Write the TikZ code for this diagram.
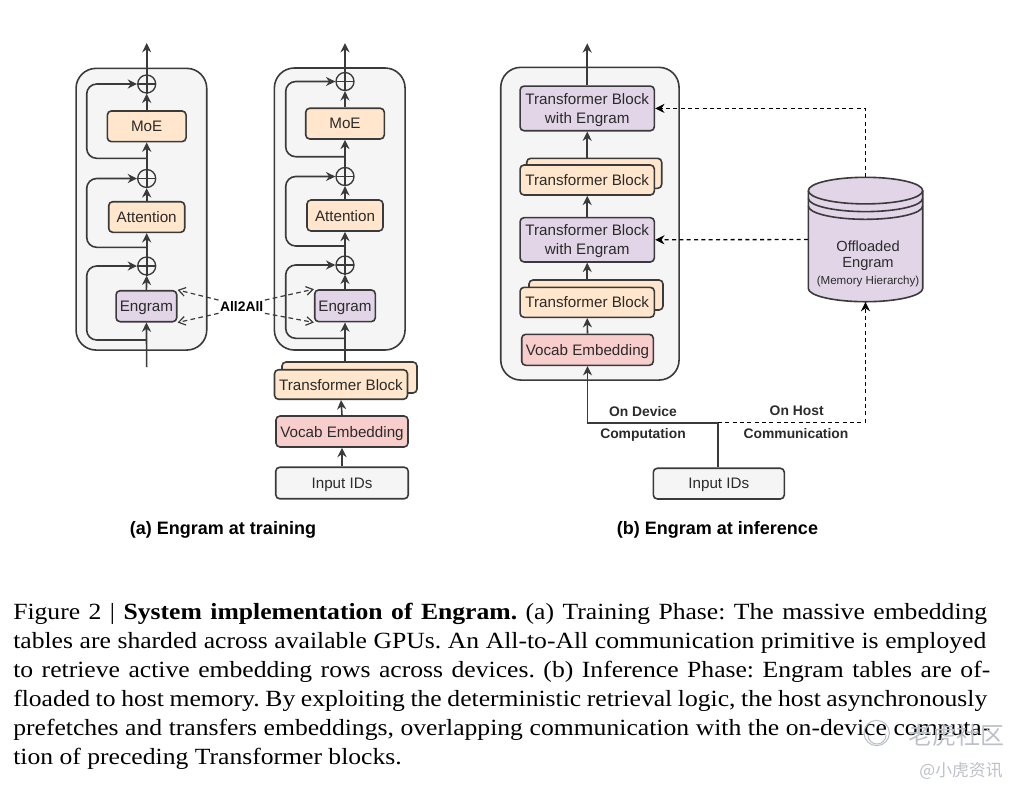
\documentclass[tikz,border=0pt]{standalone}
\usepackage{fontspec}
\setmainfont{Liberation Sans}
\newfontfamily\capfont[FakeStretch=1.105]{Liberation Serif}
\newfontfamily\cjkfont{Noto Sans CJK SC}
\usetikzlibrary{arrows.meta}
\definecolor{ink}{HTML}{2B2B2B}
\definecolor{linec}{HTML}{3A3A3A}
\definecolor{panelc}{HTML}{F5F5F5}
\definecolor{orangec}{HTML}{FFE6CC}
\definecolor{purplec}{HTML}{E1D5E7}
\definecolor{pinkc}{HTML}{F8CECC}
\definecolor{wmc}{HTML}{BCC0C8}
\newcommand{\capline}[3]{\node[capl] (#1) at (13,#2) {#3};}
\newcommand{\capfit}[4]{\node[capl] (#1) at (13,#2) {\makebox[\dimexpr #3pt*3/4\relax][s]{\frenchspacing #4}};}
\tikzset{
 x=0.75pt,y=-0.75pt,
 wire/.style={draw=linec,line width=1.2pt},
 arr/.style={wire,-{Stealth[length=7pt,width=6.8pt]}},
 skip/.style={arr,rounded corners=7.5pt},
 dasharr/.style={draw=black,line width=1pt,dash pattern=on 3pt off 2.5pt,-{Stealth[length=7pt,width=6.8pt]}},
 alldash/.style={draw=linec,line width=0.9pt,dash pattern=on 3.5pt off 2.5pt,-{Straight Barb[length=5pt,width=6.5pt]}},
 panel/.style={draw=linec,line width=1.2pt,fill=panelc,rounded corners=15pt,inner sep=0pt},
 blk/.style={draw=linec,line width=1.2pt,rounded corners=3pt,inner sep=0pt,align=center,text=ink,text depth=0pt,font=\fontsize{11.4pt}{14.2pt}\selectfont},
 orb/.style={blk,fill=orangec},
 prb/.style={blk,fill=purplec},
 pnb/.style={blk,fill=pinkc},
 gyb/.style={blk,fill=panelc},
 sz/.style n args={2}{minimum width=#1*0.75pt,minimum height=#2*0.75pt},
 plus/.style={circle,draw=linec,line width=1pt,minimum size=13.5pt,inner sep=0pt,
   path picture={\draw[linec,line width=1pt] (path picture bounding box.north)--(path picture bounding box.south)
     (path picture bounding box.west)--(path picture bounding box.east);}},
 lab/.style={inner sep=1pt,text=ink,text depth=0pt,font=\bfseries\fontsize{10.4pt}{12pt}\selectfont},
 sub/.style={inner sep=0pt,text=black,text depth=0pt,font=\bfseries\fontsize{13.5pt}{16pt}\selectfont},
 capl/.style={anchor=base west,inner sep=0pt,text=black,font=\capfont\fontsize{17.4pt}{21pt}\selectfont},
 free/.style={inner sep=0pt,text=ink,text depth=0pt}
}
\begin{document}
\begin{tikzpicture}
\useasboundingbox (0,0) rectangle (1024,794);
% --- panels
\node[panel,sz={130.7}{281.7}] (p1) at (141.4,209.2) {};
\node[panel,sz={130.7}{282}] (p2) at (339.7,209) {};
\node[panel,sz={178.3}{312.7}] (p3) at (589.9,223.7) {};
% --- training, left column
\node[orb,sz={78.7}{30.7}] (moeA) at (146.7,126.3) {MoE};
\node[orb,sz={76}{30.6}] (attA) at (146.7,217) {Attention};
\node[prb,sz={60.7}{31}] (engA) at (146.4,306.2) {Engram};
\node[plus] (c1A) at (146.7,84) {};
\node[plus] (c2A) at (146.7,178.5) {};
\node[plus] (c3A) at (146.7,266) {};
\coordinate (topA) at (146.7,43);
\coordinate (botA) at (146.7,367);
\coordinate (s1A) at (146.7,158.3);
\coordinate (s2A) at (146.7,247.3);
\coordinate (s3A) at (146.7,340);
\draw[arr] (botA) -- (engA.south);
\draw[arr] (engA.north) -- (c3A.south);
\draw[arr] (c3A.south) -- (attA.south);
\draw[arr] (attA.north) -- (c2A.south);
\draw[arr] (c2A.south) -- (moeA.south);
\draw[arr] (moeA.north) -- (c1A.south);
\draw[arr] (c1A.south) -- (topA);
\draw[skip] (s3A) -- (86.7,340) -- (86.7,266) -- (c3A.west);
\draw[skip] (s2A) -- (86.7,247.3) -- (86.7,178.5) -- (c2A.west);
\draw[skip] (s1A) -- (86.7,158.3) -- (86.7,84) -- (c1A.west);
% --- training, right column
\node[orb,sz={78.6}{30.7}] (moeB) at (345,123.6) {MoE};
\node[orb,sz={76}{31}] (attB) at (345,215.5) {Attention};
\node[prb,sz={60.6}{31.7}] (engB) at (345,305.8) {Engram};
\node[plus] (c1B) at (345,81.5) {};
\node[plus] (c2B) at (345,176.5) {};
\node[plus] (c3B) at (345,265) {};
\coordinate (topB) at (345,43);
\coordinate (s1B) at (345,156.7);
\coordinate (s2B) at (345,246);
\coordinate (s3B) at (345,338.3);
\node[orb,sz={135}{31}] (tbBback) at (349.5,377.5) {};
\node[orb,sz={133}{29.5}] (tbB) at (341,384.5) {Transformer Block};
\node[pnb,sz={132}{31}] (vocB) at (342,431.5) {Vocab Embedding};
\node[gyb,sz={132.5}{31.5}] (inB) at (342,483) {Input IDs};
\draw[arr] (inB.north) -- (vocB.south);
\draw[arr] (vocB.north) -- (tbB.south);
\draw[arr] (tbBback.north -| engB.south) -- (engB.south);
\draw[arr] (engB.north) -- (c3B.south);
\draw[arr] (c3B.south) -- (attB.south);
\draw[arr] (attB.north) -- (c2B.south);
\draw[arr] (c2B.south) -- (moeB.south);
\draw[arr] (moeB.north) -- (c1B.south);
\draw[arr] (c1B.south) -- (topB);
\draw[skip] (s3B) -- (285.7,338.3) -- (285.7,265) -- (c3B.west);
\draw[skip] (s2B) -- (285.7,246) -- (285.7,176.5) -- (c2B.west);
\draw[skip] (s1B) -- (285.7,156.7) -- (285.7,81.5) -- (c1B.west);
% --- All2All
\node[lab,text=black] (all) at (241.7,306.7) {All2All};
\draw[alldash] (all.north west) -- (engA.north east);
\draw[alldash] (all.south west) -- (engA.south east);
\draw[alldash] (all.north east) -- (engB.north west);
\draw[alldash] (all.south east) -- (engB.south west);
% --- inference
\node[prb,sz={134.3}{44.7}] (teTop) at (587.2,108.4) {Transformer Block\\with Engram};
\node[orb,sz={135}{30}] (tb1back) at (594.2,173.3) {};
\node[orb,sz={134.3}{30}] (tb1) at (587.2,180) {Transformer Block};
\node[prb,sz={134.3}{44.3}] (teBot) at (587.2,239.8) {Transformer Block\\with Engram};
\node[orb,sz={134}{30}] (tb2back) at (596,295) {};
\node[orb,sz={134.3}{30}] (tb2) at (587.2,302.3) {Transformer Block};
\node[pnb,sz={131.6}{31}] (vocC) at (587.5,349.8) {Vocab Embedding};
\node[gyb,sz={131}{30.7}] (inC) at (718.8,483.6) {Input IDs};
\coordinate (topC) at (587.2,43.3);
\coordinate (junc) at (718,422.7);
\draw[arr] (teTop.north) -- (topC);
\draw[arr] (tb1back.north -| teTop.south) -- (teTop.south);
\draw[arr] (teBot.north) -- (tb1.south);
\draw[arr] (tb2back.north -| teBot.south) -- (teBot.south);
\draw[arr] (vocC.north) -- (tb2.south);
\draw[wire] (inC.north -| junc) -- (junc);
\draw[arr] (junc) -| (vocC.south);
% --- offloaded engram
\node[inner sep=0pt,sz={114.4}{124.4}] (cyl) at (865.5,239.5) {};
\fill[purplec] (808.3,190.6) arc[start angle=180,end angle=360,x radius=57.2,y radius=13.3]
  -- (922.7,288.4) arc[start angle=0,end angle=180,x radius=57.2,y radius=13.3] -- cycle;
\draw[linec,line width=1.2pt] (808.3,190.6) arc[start angle=180,end angle=-180,x radius=57.2,y radius=13.3];
\draw[linec,line width=1.2pt] (808.3,190.6) -- (808.3,288.4) arc[start angle=180,end angle=0,x radius=57.2,y radius=13.3] -- (922.7,190.6);
\draw[linec,line width=1.2pt] (808.3,198.3) arc[start angle=180,end angle=0,x radius=57.2,y radius=13.3];
\draw[linec,line width=1.2pt] (808.3,206) arc[start angle=180,end angle=0,x radius=57.2,y radius=13.3];
\node[free,font=\fontsize{11pt}{13pt}\selectfont] (tOff) at (868,246) {Offloaded};
\node[free,font=\fontsize{11pt}{13pt}\selectfont] (tEng) at (868,262.5) {Engram};
\node[free,font=\fontsize{8.7pt}{10pt}\selectfont] (tMem) at (868,280) {(Memory Hierarchy)};
\draw[dasharr] (cyl.north) |- (teTop.east);
\draw[dasharr] (cyl.west) -- (teBot.east);
\draw[draw=black,line width=1pt,dash pattern=on 3pt off 2.5pt] (junc) -- (cyl.south |- junc);
\draw[dasharr] (cyl.south |- junc) -- (cyl.south);
\node[lab] (l1) at (643,411) {On Device};
\node[lab] (l2) at (643,433) {Computation};
\node[lab] (l3) at (796.7,411) {On Host};
\node[lab] (l4) at (796,433) {Communication};
% --- sub-captions
\node[sub] (subA) at (223,528) {(a) Engram at training};
\node[sub] (subB) at (717.5,528) {(b) Engram at inference};
% --- caption
\capfit{cl1}{619}{974}{Figure 2 | {\bfseries System implementation of Engram.} (a) Training Phase: The massive embedding}
\capfit{cl2}{648}{973}{tables are sharded across available GPUs. An All-to-All communication primitive is employed}
\capfit{cl3}{677}{977}{to retrieve active embedding rows across devices. (b) Inference Phase: Engram tables are of-}
\capfit{cl4}{706}{974}{floaded to host memory. By exploiting the deterministic retrieval logic, the host asynchronously}
\capfit{cl5}{735}{977}{prefetches and transfers embeddings, overlapping communication with the on-device computa-}
\capline{cl6}{764}{tion of preceding Transformer blocks.}
% --- watermark
\node[circle,draw=wmc,line width=0.8pt,minimum size=19pt,inner sep=0pt] (wmlogo) at (876.7,733) {};
\draw[wmc,line width=0.8pt] (868,735) arc[start angle=180,end angle=0,radius=9];
\node[inner sep=0pt,text=wmc,font=\cjkfont\fontsize{18pt}{20pt}\selectfont] (wm1) at (956.7,735) {老虎社区};
\node[inner sep=0pt,text=wmc,font=\cjkfont\fontsize{12.6pt}{14pt}\selectfont] (wm2) at (961,770.7) {@小虎资讯};
\end{tikzpicture}
\end{document}
